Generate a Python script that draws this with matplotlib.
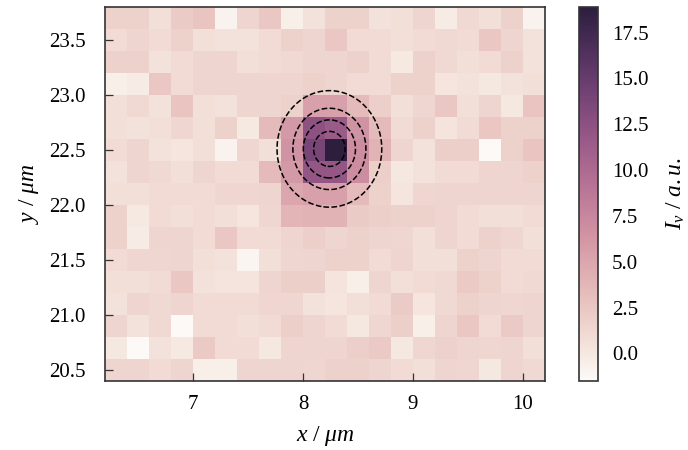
import numpy as np
import matplotlib
matplotlib.use("Agg")
import matplotlib.pyplot as plt
import seaborn as sns

plt.rcParams['font.family'] = ['Liberation Serif', 'DejaVu Serif']
plt.rcParams['mathtext.fontset'] = 'custom'
plt.rcParams['mathtext.rm'] = 'Liberation Serif'
plt.rcParams['mathtext.it'] = 'Liberation Serif:italic'
plt.rcParams['mathtext.bf'] = 'Liberation Serif:bold'

# pixel grid (cell centres, um)
x_centers = np.round(np.arange(6.3, 10.11, 0.2), 2)   # 20 columns
y_centers = np.round(np.arange(23.7, 20.49, -0.2), 2)  # 17 rows, top to bottom

# intensity map (rows top -> bottom, columns left -> right)
intensity = np.array([
    [1.7, 1.7, 0.7, 2.2, 2.7, -0.8, 1.5, 2.5, -0.6, 0.5, 1.7, 1.7, 0.5, 0.7, 1.5, -0.3, 1.2, 0.7, 1.7, -0.8],
    [1.0, 1.5, 0.9, 1.7, 0.7, 0.5, 0.5, 0.9, 1.7, 1.4, 2.5, 0.9, 0.9, 0.7, 0.9, 1.2, 0.9, 2.5, 1.5, 0.5],
    [1.7, 1.7, 0.5, 1.0, 1.5, 1.5, 0.7, 0.9, 1.2, 1.5, 1.5, 1.7, 0.9, -0.1, 1.7, 1.2, 0.7, 1.0, 1.7, 0.5],
    [-0.6, -0.3, 2.5, 1.0, 1.5, 1.5, 1.5, 1.5, 1.5, 1.7, 1.5, 1.0, 1.0, 1.7, 1.7, 0.2, 0.5, 0.0, 0.5, 0.7],
    [0.7, 1.2, 0.5, 2.7, 0.7, 0.5, 1.5, 1.5, 1.7, 5.5, 5.5, 3.5, 2.0, 0.7, 1.3, 2.5, 0.7, 1.5, 0.0, 2.7],
    [0.7, 0.5, 0.7, 1.3, 0.7, 1.7, -0.1, 3.5, 6.0, 12.5, 11.5, 6.5, 3.5, 0.9, 1.7, 0.3, 0.9, 2.5, 1.7, 1.7],
    [0.9, 1.5, 0.5, 0.2, 0.7, -0.8, 1.3, 0.7, 6.5, 14.0, 18.9, 7.0, 4.0, 1.5, 0.5, 2.0, 2.0, -1.5, 1.7, 2.7],
    [0.5, 1.5, 1.2, 0.7, 1.5, 0.9, 0.9, 3.5, 6.0, 12.0, 12.0, 7.0, 2.0, 0.0, 0.5, 0.9, 0.9, 1.5, 1.5, 1.7],
    [0.7, 0.7, 1.0, 0.9, 0.9, 1.3, 1.3, 1.5, 5.0, 5.5, 5.5, 3.5, 1.7, 0.2, 1.3, 1.5, 1.5, 1.5, 1.5, 1.5],
    [1.7, -0.1, 0.9, 0.7, 0.9, 0.7, 0.2, 1.3, 3.8, 4.0, 4.0, 2.2, 2.0, 1.7, 1.7, 1.5, 0.9, 0.7, 0.7, 0.9],
    [1.7, -0.3, 1.5, 1.5, 0.9, 2.5, 0.9, 0.9, 1.5, 1.9, 1.5, 1.7, 1.5, 1.3, 0.7, 1.5, 0.9, 1.7, 1.3, 0.7],
    [1.0, 1.3, 1.3, 1.5, 0.7, 0.5, -1.1, 0.7, 1.3, 1.5, 1.7, 1.7, 0.9, 1.5, 0.7, 0.7, 1.7, 1.5, 0.9, 0.9],
    [0.7, 0.7, 0.9, 2.5, 0.5, 0.3, 0.3, 1.5, 1.9, 1.9, 0.3, -0.6, 1.5, 0.7, 0.9, 1.2, 2.3, 1.7, 0.9, 1.2],
    [0.5, 1.5, 1.2, 1.5, 0.9, 0.9, 0.9, 1.3, 1.3, 0.5, 0.2, 0.7, 0.9, 2.2, 0.2, 1.2, 1.7, 1.5, 1.3, 1.5],
    [1.5, 0.5, 1.2, -1.5, 0.9, 0.9, 0.7, 0.9, 2.0, 1.5, 0.9, 0.0, 1.3, 1.9, -0.6, 1.5, 2.5, 0.9, 2.3, 1.5],
    [0.0, -1.5, 0.5, -0.1, 2.3, 0.9, 0.9, 0.0, 1.5, 1.5, 1.5, 2.0, 2.3, 0.0, 1.3, 1.7, 1.5, 1.3, 1.5, 0.7],
    [1.5, 1.5, 0.9, 1.5, -0.6, -0.6, 1.5, 1.5, 1.5, 1.3, 1.7, 1.7, 1.5, 0.9, 0.7, 1.5, 1.3, 0.0, 1.5, 1.2],
])

# 2D gaussian fit parameters (amplitude, offset, centre, widths) and contour levels
fit_amp = 17.0
fit_offset = 2.0
fit_x0, fit_y0 = 8.24, 22.51
fit_sx, fit_sy = 0.23, 0.256
contour_levels = [4, 8, 12, 16]

x_ticks = [7, 8, 9, 10]
y_ticks = [20.5, 21.0, 21.5, 22.0, 22.5, 23.0, 23.5]
cbar_ticks = [0.0, 2.5, 5.0, 7.5, 10.0, 12.5, 15.0, 17.5]

cmap = sns.cubehelix_palette(light=0.98, dark=0.15, as_cmap=True)

fig = plt.figure(figsize=(6.88, 4.5), dpi=100)
ax = fig.add_axes([105/688, 1 - 381/450, 440/688, 374/450])
cax = fig.add_axes([579/688, 1 - 381/450, 19/688, 374/450])

dx = 0.2
x_edges = np.concatenate([x_centers - dx/2, [x_centers[-1] + dx/2]])
y_edges = np.concatenate([y_centers + dx/2, [y_centers[-1] - dx/2]])
mesh = ax.pcolormesh(x_edges, y_edges, intensity, cmap=cmap,
                     vmin=intensity.min(), vmax=intensity.max(), shading='flat')

xf = np.linspace(x_edges[0], x_edges[-1], 400)
yf = np.linspace(y_edges[-1], y_edges[0], 400)
XX, YY = np.meshgrid(xf, yf)
fit = fit_offset + fit_amp * np.exp(-((XX - fit_x0)**2 / (2 * fit_sx**2)
                                      + (YY - fit_y0)**2 / (2 * fit_sy**2)))
ax.contour(XX, YY, fit, levels=contour_levels, colors='k',
           linestyles='--', linewidths=1.1)

ax.set_xlim(x_edges[0], x_edges[-1])
ax.set_ylim(y_edges[-1], y_edges[0])
ax.set_xticks(x_ticks)
ax.set_yticks(y_ticks)
ax.set_yticklabels([f"{v:.1f}" for v in y_ticks])
ax.tick_params(direction='in', length=6, width=0.9, color='#333333',
               labelsize=15, top=False, right=False)
ax.tick_params(axis='x', pad=10)
ax.tick_params(axis='y', pad=14)
for s in ax.spines.values():
    s.set_color('#333333')
    s.set_linewidth(1.2)
ax.set_xlabel(r'$x\ /\ \mu m$', fontsize=17, labelpad=7)
ax.set_ylabel(r'$y\ /\ \mu m$', fontsize=17, labelpad=6)

cb = fig.colorbar(mesh, cax=cax)
cb.set_ticks(cbar_ticks)
cb.set_ticklabels([f"{v:.1f}" for v in cbar_ticks])
cax.tick_params(length=0, labelsize=15, pad=10)
cb.outline.set_edgecolor('#333333')
cb.outline.set_linewidth(1.2)
cb.set_label(r'$I_\nu\ /\ a.u.$', fontsize=17, labelpad=12)

fig.savefig('out.png', dpi=100)
